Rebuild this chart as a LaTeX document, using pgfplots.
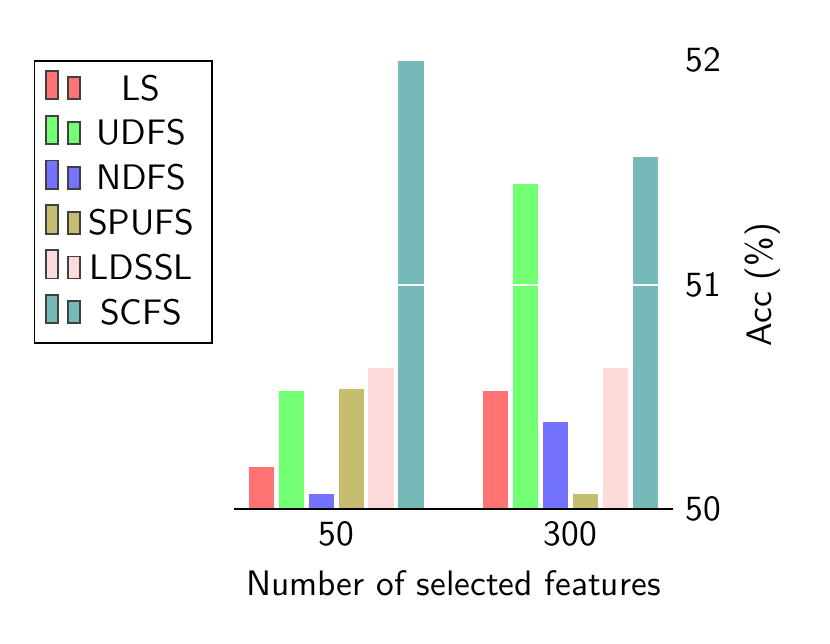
\documentclass[border=0pt]{standalone}
\usepackage{pgfplots}
\pgfplotsset{compat=1.18}
\renewcommand{\familydefault}{\sfdefault}

\definecolor{cLS}{RGB}{255,115,115}
\definecolor{cUDFS}{RGB}{115,255,115}
\definecolor{cNDFS}{RGB}{115,115,255}
\definecolor{cSPUFS}{RGB}{198,189,112}
\definecolor{cLDSSL}{RGB}{253,219,219}
\definecolor{cSCFS}{RGB}{117,185,185}

\begin{document}
\begin{tikzpicture}
\begin{axis}[
    name=ax,
    scale only axis,
    width=124pt,
    height=126.8pt,
    ybar=0.85pt,
    bar width=7.6pt,
    xmin=-0.437, xmax=1.437,
    ymin=50, ymax=52,
    xtick={0,1},
    xticklabels={50,300},
    ytick={50,51,52},
    axis x line*=bottom,
    axis y line*=right,
    y axis line style={draw=none},
    x axis line style={line width=0.8pt, -},
    major tick length=0pt,
    ymajorgrids,
    major grid style={white, line width=0.6pt},
    axis on top,
    xlabel={Number of selected features},
    ylabel={Acc (\%)},
    /pgf/number format/assume math mode=true,
    legend cell align=center,
    legend style={at={(-0.048,1)}, anchor=north east, draw=black,
        row sep=0pt, inner xsep=3pt, inner ysep=1.9pt},
    legend image code/.code={
        \draw[#1,draw=black!75,line width=0.5pt] (0.6pt,-2.6pt) rectangle (4pt,5.4pt);
        \draw[#1,draw=black!75,line width=0.5pt] (6.8pt,-2.6pt) rectangle (10.2pt,3.6pt);
    },
    every axis plot/.append style={draw=white, line width=0.4pt},
]
\addplot[fill=cLS] coordinates {(0,50.19) (1,50.53)};
\addlegendentry{LS}
\addplot[fill=cUDFS] coordinates {(0,50.53) (1,51.45)};
\addlegendentry{UDFS}
\addplot[fill=cNDFS] coordinates {(0,50.07) (1,50.39)};
\addlegendentry{NDFS}
\addplot[fill=cSPUFS] coordinates {(0,50.54) (1,50.07)};
\addlegendentry{SPUFS}
\addplot[fill=cLDSSL] coordinates {(0,50.63) (1,50.63)};
\addlegendentry{LDSSL}
\addplot[fill=cSCFS] coordinates {(0,52.00) (1,51.57)};
\addlegendentry{SCFS}
\end{axis}
\path ([shift={(-66.1pt,-37.9pt)}]ax.south west) rectangle ++(234.5pt,181.7pt);
\end{tikzpicture}
\end{document}
